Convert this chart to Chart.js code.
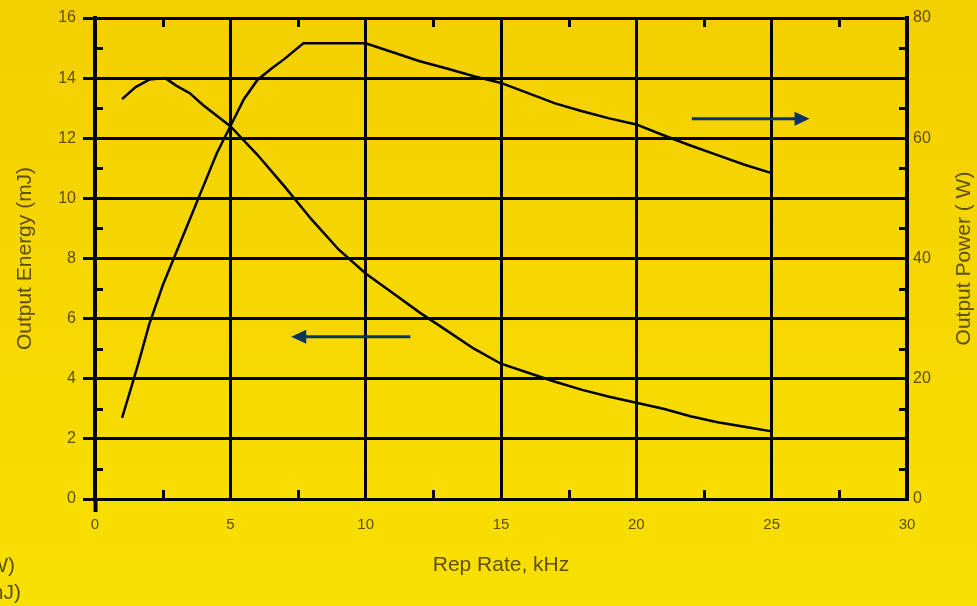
<!DOCTYPE html>
<html>
<head>
<meta charset="utf-8">
<script src="https://cdn.jsdelivr.net/npm/chart.js@4/dist/chart.umd.min.js"></script>
<style>
  html, body { margin: 0; padding: 0; background: #f6d800; }
  #wrap { width: 977px; height: 606px; }
</style>
</head>
<body>
<div id="wrap"><canvas id="c" width="977" height="606"></canvas></div>
<script>
// Rep rate (kHz) vs output energy (mJ, left axis) and output power (W, right axis)
const energyRate = [1, 1.5, 2, 2.6, 3, 3.5, 4, 5, 6, 7, 8, 9, 10, 11, 12, 13, 14, 15, 16, 17, 18, 19, 20, 21, 22, 23, 24, 25];
const energy     = [13.3, 13.7, 13.95, 14.0, 13.75, 13.5, 13.1, 12.4, 11.45, 10.4, 9.3, 8.3, 7.5, 6.85, 6.2, 5.6, 5.0, 4.5, 4.2, 3.9, 3.63, 3.4, 3.2, 3.0, 2.75, 2.55, 2.4, 2.25];

const powerRate = [1, 1.3, 1.6, 2, 2.5, 3, 3.5, 4, 4.5, 5, 5.5, 6, 6.5, 7, 7.7, 10, 11, 12, 13, 14, 15, 16, 17, 18, 19, 20, 21, 22, 23, 24, 25];
const power     = [13.5, 18, 22.5, 29, 35.5, 41, 46.5, 52, 57.5, 62, 66.5, 69.7, 71.5, 73.2, 75.8, 75.8, 74.3, 72.8, 71.6, 70.3, 69.2, 67.5, 65.8, 64.5, 63.3, 62.3, 60.5, 58.8, 57.2, 55.6, 54.2];

const xTicks = [0, 5, 10, 15, 20, 25, 30];
const xMinor = [2.5, 7.5, 12.5, 17.5, 22.5, 27.5];
const yMinor = [1, 3, 5, 7, 9, 11, 13, 15];

// arrows in data units: [x from, x to, y on energy axis]
const arrowPower  = [22.05, 26.4, 12.65];
const arrowEnergy = [11.65, 7.25, 5.4];

const INK = "#5f4f00", NAVY = "#0c3366";
const FAM = "'Liberation Sans', Arial, sans-serif";
const tickFont = { family: FAM, size: 16 };
const titleFont = { family: FAM, size: 21 };

const extras = {
  id: "extras",
  beforeDraw(chart) {
    const { ctx, width, height } = chart;
    const g = ctx.createLinearGradient(0, 0, 0, height);
    g.addColorStop(0, "#f4cf00"); g.addColorStop(1, "#f8e000");
    ctx.save(); ctx.fillStyle = g; ctx.fillRect(0, 0, width, height); ctx.restore();
  },
  afterDraw(chart) {
    const { ctx, chartArea: a, scales: { x, y } } = chart;
    ctx.save();
    ctx.strokeStyle = "#000"; ctx.lineWidth = 3;
    ctx.beginPath();
    xMinor.forEach((v) => {
      const px = Math.round(x.getPixelForValue(v)) + 0.5;
      ctx.moveTo(px, a.bottom); ctx.lineTo(px, a.bottom - 9);
      ctx.moveTo(px, a.top); ctx.lineTo(px, a.top + 9);
    });
    yMinor.forEach((v) => {
      const py = Math.round(y.getPixelForValue(v)) + 0.5;
      ctx.moveTo(a.left, py); ctx.lineTo(a.left + 8, py);
      ctx.moveTo(a.right, py); ctx.lineTo(a.right - 8, py);
    });
    ctx.stroke();

    // direction arrows
    const arrow = ([x0, x1, yv]) => {
      const p0 = x.getPixelForValue(x0), p1 = x.getPixelForValue(x1), py = y.getPixelForValue(yv);
      const dir = Math.sign(p1 - p0);
      ctx.strokeStyle = NAVY; ctx.fillStyle = NAVY; ctx.lineWidth = 3;
      ctx.beginPath(); ctx.moveTo(p0, py); ctx.lineTo(p1 - dir * 12, py); ctx.stroke();
      ctx.beginPath(); ctx.moveTo(p1, py); ctx.lineTo(p1 - dir * 15, py - 7); ctx.lineTo(p1 - dir * 15, py + 7);
      ctx.closePath(); ctx.fill();
    };
    arrow(arrowPower); arrow(arrowEnergy);

    // right axis title, reading bottom to top
    ctx.fillStyle = INK;
    ctx.font = `${titleFont.size}px ${titleFont.family}`;
    ctx.textAlign = "center"; ctx.textBaseline = "middle";
    ctx.translate(964, (a.top + a.bottom) / 2); ctx.rotate(-Math.PI / 2);
    ctx.fillText("Output Power ( W)", 0, 0);
    ctx.setTransform(1, 0, 0, 1, 0, 0);

    // legend text cut off at the left edge
    ctx.textAlign = "right"; ctx.textBaseline = "middle";
    ctx.fillText("Output Power (W)", 15, 566);
    ctx.fillText("Output Energy (mJ)", 21, 593);
    ctx.restore();
  },
};

new Chart(document.getElementById("c"), {
  type: "line",
  data: {
    datasets: [
      { label: "Energy", data: energyRate.map((r, i) => ({ x: r, y: energy[i] })), yAxisID: "y",
        borderColor: "#000", borderWidth: 2.5, pointRadius: 0, tension: 0, fill: false },
      { label: "Power", data: powerRate.map((r, i) => ({ x: r, y: power[i] })), yAxisID: "y2",
        borderColor: "#000", borderWidth: 2.5, pointRadius: 0, tension: 0, fill: false },
    ],
  },
  options: {
    responsive: false, animation: false,
    layout: { padding: { top: 18, left: 0, right: 0, bottom: 0 } },
    plugins: { legend: { display: false }, tooltip: { enabled: false } },
    scales: {
      x: {
        type: "linear", min: 0, max: 30,
        afterBuildTicks: (s) => { s.ticks = xTicks.map((v) => ({ value: v })); },
        afterFit: (s) => { s.height = 107; },
        grid: { color: "#000", lineWidth: 3, tickLength: 13, tickWidth: 4,
          tickColor: (c) => (c.tick && c.tick.value === 0 ? "#000" : "rgba(0,0,0,0)") },
        border: { color: "#000", width: 3 },
        ticks: { color: INK, font: { ...tickFont, size: 15 }, padding: 4, maxRotation: 0 },
        title: { display: true, text: "Rep Rate, kHz", color: INK, font: titleFont, padding: { top: 0, bottom: 28 } },
      },
      y: {
        position: "left", min: 0, max: 16,
        ticks: { stepSize: 2, color: INK, font: tickFont, padding: 7 },
        afterFit: (s) => { s.width = 95; },
        grid: { color: "#000", lineWidth: 3, tickLength: 12, tickWidth: 3 },
        border: { color: "#000", width: 4 },
        title: { display: true, text: "Output Energy (mJ)", color: INK, font: titleFont, padding: { top: 13, bottom: 0 } },
      },
      y2: {
        position: "right", min: 0, max: 80,
        ticks: { stepSize: 20, color: INK, font: tickFont, padding: 6 },
        afterFit: (s) => { s.width = 70; },
        grid: { display: false, drawTicks: false },
        border: { color: "#000", width: 4 },
      },
    },
  },
  plugins: [extras],
});
</script>
</body>
</html>
